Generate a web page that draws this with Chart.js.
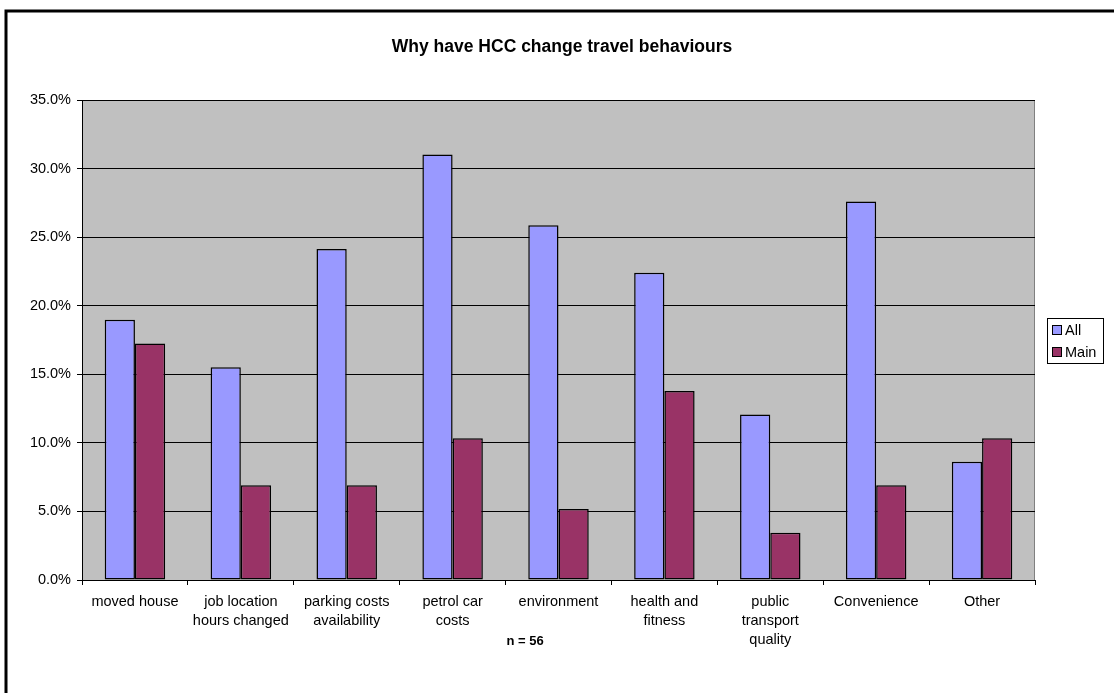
<!DOCTYPE html>
<html>
<head>
<meta charset="utf-8">
<title>Why have HCC change travel behaviours</title>
<script src="https://cdn.jsdelivr.net/npm/chart.js@4"></script>
<style>
  html, body { margin: 0; padding: 0; background: #fff; }
  #wrap { width: 1114px; height: 693px; }
</style>
</head>
<body>
<div id="wrap"><canvas id="reasonChart" width="1114" height="693"></canvas></div>
<script>
// 응답 사유 (x축 라벨, 줄바꿈은 배열로)
const reasons = [
    ['moved house'],
    ['job location', 'hours changed'],
    ['parking costs', 'availability'],
    ['petrol car', 'costs'],
    ['environment'],
    ['health and', 'fitness'],
    ['public', 'transport', 'quality'],
    ['Convenience'],
    ['Other']
];

// 비율 (%)
const allValues = [18.97, 15.52, 24.14, 31.03, 25.86, 22.41, 12.07, 27.59, 8.62];
const mainValues = [17.24, 6.90, 6.90, 10.34, 5.17, 13.79, 3.45, 6.90, 10.34];

// y축 눈금
const yTicks = [0, 5, 10, 15, 20, 25, 30, 35];

const FONT = '"Liberation Sans", Arial, sans-serif';

// 배경, 테두리, 제목, 범례 그리기
const excelLook = {
    id: 'excelLook',
    beforeDraw(chart) {
        const { ctx, chartArea: a } = chart;
        ctx.save();
        ctx.fillStyle = '#fff';
        ctx.fillRect(0, 0, chart.width, chart.height);
        ctx.fillStyle = '#c0c0c0';
        ctx.fillRect(a.left, a.top, a.right - a.left, a.bottom - a.top);
        ctx.strokeStyle = '#808080';
        ctx.lineWidth = 1;
        ctx.strokeRect(a.left + 0.5, a.top + 0.5, a.right - a.left - 1, a.bottom - a.top);
        ctx.restore();
    },
    afterDraw(chart) {
        const { ctx } = chart;
        ctx.save();
        // 바깥 테두리
        ctx.strokeStyle = '#000';
        ctx.lineWidth = 3;
        ctx.strokeRect(6, 11, 1300, 900);

        // 제목
        ctx.fillStyle = '#000';
        ctx.textAlign = 'center';
        ctx.textBaseline = 'alphabetic';
        ctx.font = 'bold 17.5px ' + FONT;
        ctx.fillText('Why have HCC change travel behaviours', 562, 52);

        // 표본 수
        ctx.font = 'bold 13px ' + FONT;
        ctx.textBaseline = 'middle';
        ctx.fillText('n = 56', 525, 641);

        // 범례
        ctx.lineWidth = 1;
        ctx.strokeRect(1047.5, 318.5, 56, 45);
        ctx.font = '14.5px ' + FONT;
        ctx.textAlign = 'left';
        chart.data.datasets.forEach((ds, i) => {
            const y = 325 + i * 22;
            ctx.fillStyle = ds.backgroundColor;
            ctx.fillRect(1052, y, 10, 10);
            ctx.strokeRect(1052.5, y + 0.5, 9, 9);
            ctx.fillStyle = '#000';
            ctx.fillText(ds.label, 1065, y + 5.5);
        });
        ctx.restore();
    }
};

const ctx = document.getElementById('reasonChart').getContext('2d');
new Chart(ctx, {
    type: 'bar',
    data: {
        labels: reasons,
        datasets: [{
            label: 'All',
            data: allValues,
            backgroundColor: '#9999ff',
            borderColor: '#000',
            borderWidth: 1.5,
            borderSkipped: false
        }, {
            label: 'Main',
            data: mainValues,
            backgroundColor: '#993366',
            borderColor: '#000',
            borderWidth: 1.5,
            borderSkipped: false
        }]
    },
    options: {
        responsive: false,
        animation: false,
        devicePixelRatio: 1,
        categoryPercentage: 0.571,
        barPercentage: 1,
        layout: { padding: { left: 20, top: 100, right: 79, bottom: 0 } },
        plugins: {
            legend: { display: false },
            title: { display: false },
            tooltip: { enabled: false }
        },
        scales: {
            x: {
                grid: {
                    offset: true,
                    drawOnChartArea: false,
                    color: '#000',
                    tickLength: 5
                },
                border: { color: '#000', width: 1 },
                ticks: {
                    color: '#000',
                    padding: 8,
                    maxRotation: 0,
                    autoSkip: false,
                    font: { family: FONT, size: 14.5, lineHeight: 1.3 }
                },
                afterFit(scale) { scale.height = 113; }
            },
            y: {
                min: 0,
                max: 35,
                afterBuildTicks(scale) {
                    scale.ticks = yTicks.map(v => ({ value: v }));
                },
                grid: { color: '#000', tickLength: 5 },
                border: { color: '#000', width: 1 },
                ticks: {
                    color: '#000',
                    padding: 6,
                    font: { family: FONT, size: 14.5 },
                    callback: v => v.toFixed(1) + '%'
                },
                afterFit(scale) { scale.width = 62; }
            }
        }
    },
    plugins: [excelLook]
});
</script>
</body>
</html>
